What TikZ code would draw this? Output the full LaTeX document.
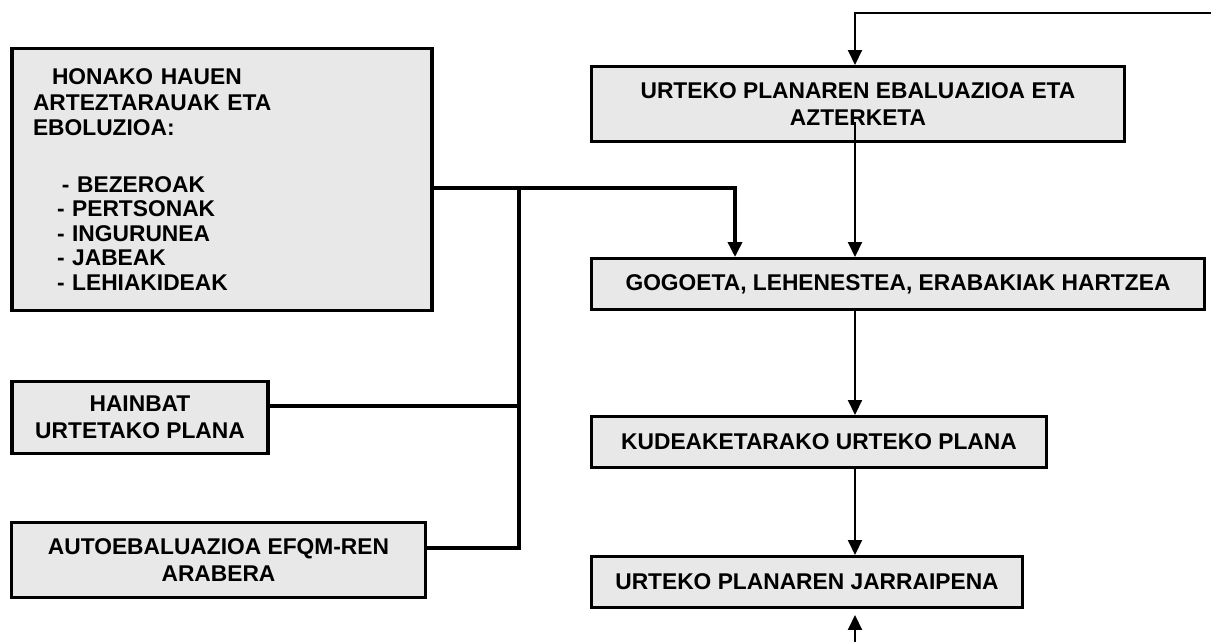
\documentclass[tikz,border=0pt]{standalone}
\usepackage{fontspec}
\setmainfont{Liberation Sans}
\usetikzlibrary{arrows.meta, positioning, calc}
\definecolor{kutxagris}{HTML}{E8E8E8}

\begin{document}
\begin{tikzpicture}[
  plan/.style={draw, rectangle, line width=2.4pt, fill=kutxagris, align=center, inner sep=2pt, font=\bfseries\fontsize{16.2pt}{19pt}\selectfont},
  bus/.style={line width=2.5pt},
  flow/.style={line width=1.4pt},
  gezi/.style={-{Triangle[length=3.75mm, width=3.5mm]}}
]
\useasboundingbox (0,0) rectangle (30.275,16.05);

% ezkerreko sarrerak
\node[plan, minimum width=10.5cm, minimum height=6.54cm, align=left, text width=9.45cm, font=\bfseries\fontsize{16.2pt}{17.5pt}\selectfont] (honako) at (5.55,11.5625)
  {\hspace*{0.475cm}HONAKO HAUEN\\[1pt] ARTEZTARAUAK ETA\\ EBOLUZIOA:\\[23pt]
   \hspace*{0.725cm}- BEZEROAK\\ \hspace*{0.6cm}- PERTSONAK\\ \hspace*{0.6cm}- INGURUNEA\\
   \hspace*{0.6cm}- JABEAK\\ \hspace*{0.6cm}- LEHIAKIDEAK};
\node[plan, minimum width=6.4cm, minimum height=1.79cm] (hainbat) at (3.5,5.6125) {HAINBAT\\URTETAKO PLANA};
\node[plan, minimum width=10.34cm, minimum height=1.865cm] (autoeb) at (5.4625,2.05) {AUTOEBALUAZIOA EFQM-REN\\ARABERA};

% eskuineko zikloa
\node[plan, minimum width=13.315cm, minimum height=1.865cm] (ebal) at (21.45,13.45) {URTEKO PLANAREN EBALUAZIOA ETA\\AZTERKETA};
\node[plan, minimum width=15.315cm, minimum height=1.265cm] (gogoeta) at (22.45,8.95) {GOGOETA, LEHENESTEA, ERABAKIAK HARTZEA};
\node[plan, minimum width=11.365cm, minimum height=1.265cm] (kudeak) at (20.475,5.0) {KUDEAKETARAKO URTEKO PLANA};
\node[plan, minimum width=10.765cm, minimum height=1.265cm] (jarrai) at (20.175,1.5) {URTEKO PLANAREN JARRAIPENA};

% lotura puntuak
\coordinate (bus1) at (12.975,11.35);
\coordinate (bus2) at (12.975,5.9);
\coordinate (bus3) at (12.975,2.35);
\coordinate (ukondo) at (18.375,11.35);
\coordinate (goian) at (21.375,15.725);
\coordinate (eskuin) at (30.3,15.725);
\coordinate (behean) at (21.375,-0.05);

% sarrerak -> gogoeta
\draw[bus, gezi] (honako.east |- bus1) -- (ukondo) -- (ukondo |- gogoeta.north);
\draw[bus] (bus1) -- (bus3) -- (autoeb.east |- bus3);
\draw[bus] (hainbat.east |- bus2) -- (bus2);

% zikloa
\draw[flow, gezi] (eskuin) -- (goian) -- (goian |- ebal.north);
\draw[flow, gezi] ($(goian |- ebal.center)+(0,-0.45)$) -- (goian |- gogoeta.north);
\draw[flow, gezi] (goian |- gogoeta.south) -- (goian |- kudeak.north);
\draw[flow, gezi] (goian |- kudeak.south) -- (goian |- jarrai.north);
\draw[flow, gezi, shorten >=0.15cm] (behean) -- (behean |- jarrai.south);

\end{tikzpicture}
\end{document}
